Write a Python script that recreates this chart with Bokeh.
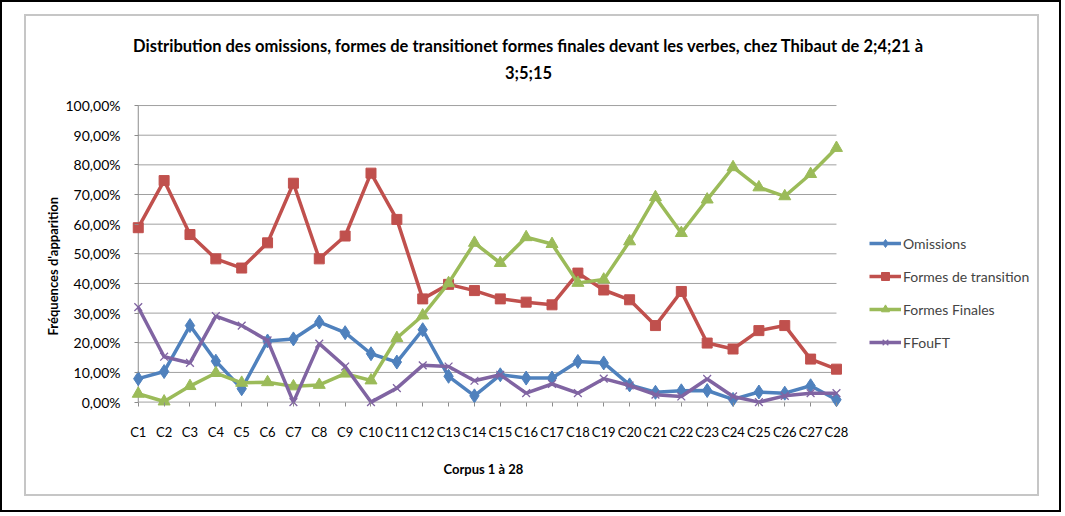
from bokeh.plotting import figure
from bokeh.models import Range1d, FixedTicker, Legend, LegendItem, Title, Label, ColumnDataSource
from bokeh.layouts import column
from bokeh.embed import file_html
from bokeh.resources import INLINE

categories = ["C1", "C2", "C3", "C4", "C5", "C6", "C7", "C8", "C9", "C10",
              "C11", "C12", "C13", "C14", "C15", "C16", "C17", "C18", "C19", "C20",
              "C21", "C22", "C23", "C24", "C25", "C26", "C27", "C28"]

omissions = [7.9, 10.3, 25.8, 13.8, 4.5, 20.6, 21.3, 27.0, 23.4, 16.3, 13.5, 24.4, 8.7, 2.1,
             9.2, 8.1, 8.1, 13.7, 13.2, 5.8, 3.3, 3.8, 3.9, 0.9, 3.4, 3.0, 5.5, 0.8]
formes_transition = [58.8, 74.7, 56.5, 48.3, 45.2, 53.7, 73.8, 48.3, 56.0, 77.2, 61.6, 34.8, 39.7, 37.6,
                     34.8, 33.7, 32.8, 43.5, 37.8, 34.5, 25.8, 37.3, 19.9, 17.9, 24.1, 25.8, 14.5, 11.1]
formes_finales = [2.8, 0.2, 5.4, 9.8, 6.5, 6.7, 5.3, 5.8, 9.6, 7.3, 21.6, 29.2, 40.1, 53.7,
                  46.9, 55.6, 53.3, 40.2, 41.3, 54.2, 69.1, 57.0, 68.3, 79.2, 72.4, 69.4, 76.9, 85.7]
ffouft = [32.0, 15.3, 13.2, 29.0, 25.8, 20.8, 0.0, 19.7, 12.0, 0.0, 4.7, 12.4, 12.0, 7.2,
          9.2, 3.0, 6.1, 3.0, 7.9, 5.6, 2.5, 1.9, 7.8, 1.9, 0.0, 2.1, 3.0, 3.0]

series_names = ["Omissions", "Formes de transition", "Formes Finales", "FFouFT"]

y_ticks = [0, 10, 20, 30, 40, 50, 60, 70, 80, 90, 100]
y_tick_labels = ["0,00%", "10,00%", "20,00%", "30,00%", "40,00%", "50,00%",
                 "60,00%", "70,00%", "80,00%", "90,00%", "100,00%"]

title_line1 = "Distribution des omissions, formes de transitionet formes finales devant les verbes, chez Thibaut de 2;4;21 à"
title_line2 = "3;5;15"
x_title = "Corpus 1 à 28"
y_title = "Fréquences d'apparition"

AXIS = "#8c8c8c"
GRID = "#a0a0a0"
FONT = "Lato"

xs = list(range(1, len(categories) + 1))

# layout geometry (pixels)
W, H = 1015, 482
LEFT, BOTTOM = 104, 89
PX_PER_CAT = 25.86
PX_PER_PCT = 2.9655
frame_w = W - LEFT
frame_h = H - BOTTOM
x0 = xs[0] - 0.3
y0 = -2.5

p = figure(width=W, height=H,
           x_range=Range1d(x0, x0 + frame_w / PX_PER_CAT),
           y_range=Range1d(y0, y0 + frame_h / PX_PER_PCT),
           output_backend="svg", toolbar_location=None,
           min_border_left=LEFT, min_border_right=0,
           min_border_top=0, min_border_bottom=BOTTOM,
           outline_line_color=None)
p.styles = {"border": "2px solid #c6c6c6"}
p.xgrid.visible = False
p.ygrid.visible = False

# horizontal gridlines (0 line doubles as the category axis line)
p.segment(x0=[xs[0]] * len(y_ticks), x1=[xs[-1]] * len(y_ticks), y0=y_ticks, y1=y_ticks,
          line_color=GRID, line_width=1)
# value axis line at the first category
p.segment(x0=[xs[0]], x1=[xs[0]], y0=[y_ticks[0]], y1=[y_ticks[-1]],
          line_color=AXIS, line_width=1)

# x axis
xa = p.xaxis[0]
xa.ticker = FixedTicker(ticks=xs)
xa.major_label_overrides = {i: c for i, c in zip(xs, categories)}
xa.axis_line_color = None
xa.major_tick_line_color = AXIS
xa.major_tick_in = 7
xa.major_tick_out = -3
xa.minor_tick_line_color = None
xa.major_label_standoff = 14
xa.major_label_text_font = FONT
xa.major_label_text_font_size = "13px"
xa.major_label_text_color = "black"

# y axis
ya = p.yaxis[0]
ya.ticker = FixedTicker(ticks=y_ticks)
ya.major_label_overrides = dict(zip(y_ticks, y_tick_labels))
ya.axis_line_color = None
ya.major_tick_line_color = AXIS
ya.major_tick_in = 8
ya.major_tick_out = -4
ya.minor_tick_line_color = None
ya.major_label_standoff = 10
ya.major_label_text_font = FONT
ya.major_label_text_font_size = "14px"
ya.major_label_text_color = "black"

styles = [
    (omissions, "#4F81BD", "diamond", 14, 1),
    (formes_transition, "#C0504D", "square", 10, 1),
    (formes_finales, "#9BBB59", "triangle", 12, 1),
    (ffouft, "#8064A2", "x", 11, 1.3),
]

items = []
for name, (vals, color, marker, size, mlw) in zip(series_names, styles):
    src = ColumnDataSource(dict(x=xs, y=vals))
    ln = p.line("x", "y", source=src, line_color=color, line_width=3.5)
    sc = p.scatter("x", "y", source=src, marker=marker, size=size,
                   fill_color=color, line_color=color, line_width=mlw)
    items.append(LegendItem(label=name, renderers=[ln, sc]))

legend = Legend(items=items, location=(739, 57), orientation="vertical",
                glyph_width=32, glyph_height=20, spacing=13, label_standoff=2,
                padding=0, margin=0, border_line_color=None, background_fill_alpha=0,
                label_text_font=FONT, label_text_font_size="14px")
p.add_layout(legend, "center")

# chart title (two lines), positioned in screen units from the frame's bottom-left
t1 = Label(x=398, y=364, x_units="screen", y_units="screen", text=title_line1,
           text_align="center", text_baseline="middle", text_font=FONT,
           text_font_style="bold", text_font_size="16.5px", text_color="black")
t2 = Label(x=398, y=337, x_units="screen", y_units="screen", text=title_line2,
           text_align="center", text_baseline="middle", text_font=FONT,
           text_font_style="bold", text_font_size="16.5px", text_color="black")
p.add_layout(t1)
p.add_layout(t2)

# axis titles
xt = Title(text=x_title, align="left", offset=313, text_font=FONT, text_font_style="bold",
           text_font_size="13px", text_color="black", standoff=32)
p.add_layout(xt, "below")
yt = Title(text=y_title, align="left", offset=74, text_font=FONT, text_font_style="bold",
           text_font_size="13px", text_color="black", standoff=4)
p.add_layout(yt, "left")

layout = column(p, styles={"border": "2px solid black", "padding": "12px 20px 14px 22px"})

open("out.html", "w").write(file_html(layout, INLINE))
